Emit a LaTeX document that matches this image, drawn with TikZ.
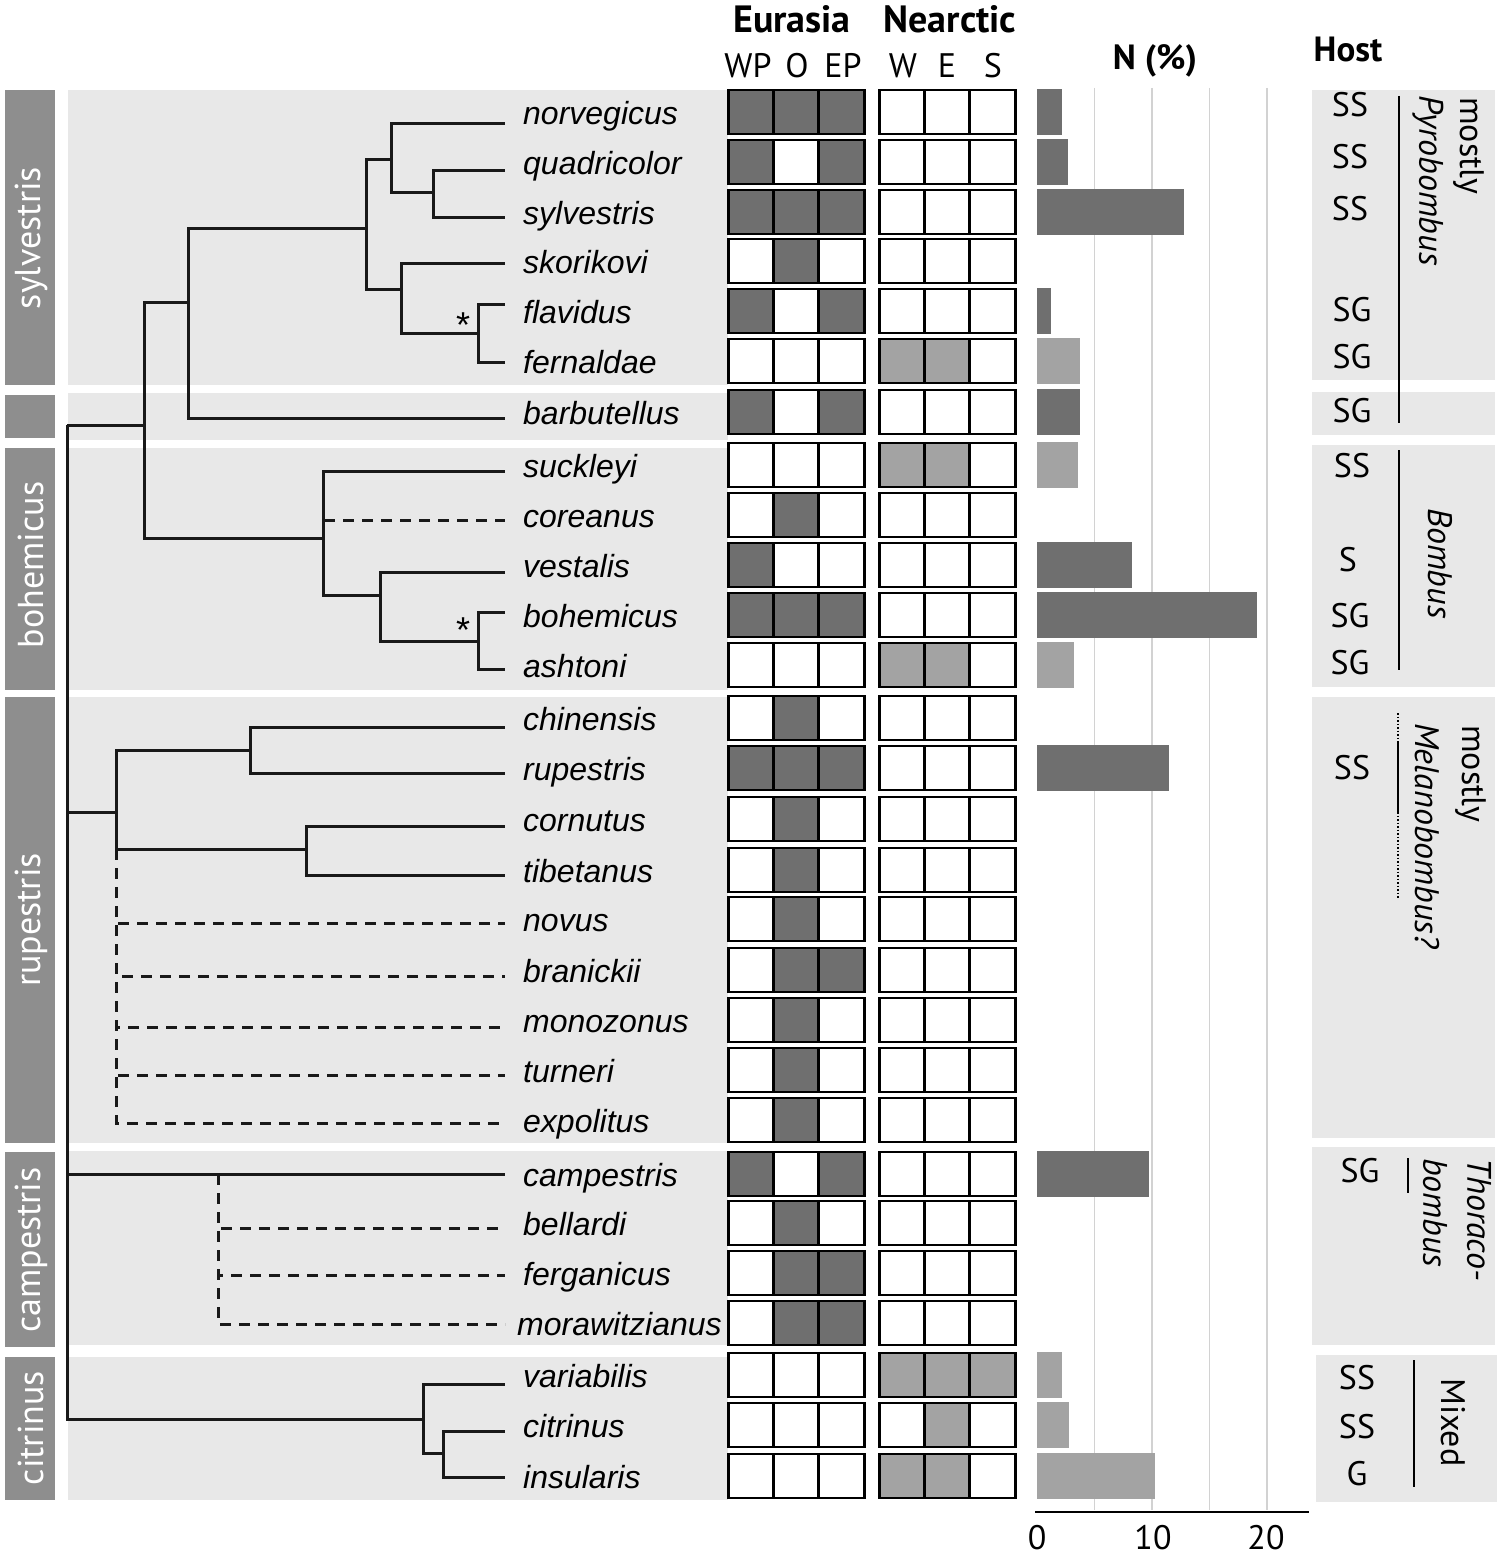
\documentclass[tikz,border=0pt]{standalone}
\usepackage{fontspec}
\setmainfont{PT Sans}
\newfontfamily\taxonfont{Liberation Sans}
\usetikzlibrary{positioning}

\begin{document}
\begin{tikzpicture}[
    x=1pt, y=-1pt,
    font=\fontsize{34}{40}\selectfont,
    % --- Style Definitions ---
    branch/.style={line width=3pt, draw=black!90},
    unsure/.style={branch, dash pattern=on 11pt off 8pt},
    taxon/.style={font=\taxonfont\itshape\fontsize{32}{38}\selectfont, anchor=mid west, inner sep=0pt},
    cell/.style={draw=black, line width=2.8pt, minimum width=45.5pt, minimum height=44pt, inner sep=0pt},
    tablabel/.style={text=white, rotate=90, font=\fontsize{36}{40}\selectfont, inner sep=0pt},
    head/.style={font=\bfseries\fontsize{38}{42}\selectfont, anchor=base, inner sep=0pt},
    colhead/.style={anchor=base, inner sep=0pt},
    hostlabel/.style={inner sep=0pt},
    sidetext/.style={rotate=-90, anchor=west, inner sep=0pt},
    hostline/.style={line width=2.4pt},
    gridline/.style={line width=1.5pt, draw=gridGray}
]

% Define custom colours
\definecolor{cD}{HTML}{6F6F6F}
\definecolor{cL}{HTML}{A3A3A3}
\definecolor{cW}{HTML}{FFFFFF}
\definecolor{panelGray}{HTML}{E8E8E8}
\definecolor{tabGray}{HTML}{8E8E8E}
\definecolor{gridGray}{HTML}{D2D2D2}

\fill[white] (0,0) rectangle (1506,1557);
\useasboundingbox (0,0) rectangle (1506,1557);

% ================= Group panels & tabs =================
\fill[panelGray] (68,90) rectangle (728,385);
\fill[panelGray] (68,393) rectangle (728,440);
\fill[panelGray] (68,448) rectangle (728,690);
\fill[panelGray] (68,697) rectangle (728,1143);
\fill[panelGray] (68,1151) rectangle (728,1345);
\fill[panelGray] (68,1357) rectangle (728,1500);

\fill[tabGray] (5,90) rectangle (55,385);
\fill[tabGray] (5,395) rectangle (55,438);
\fill[tabGray] (5,448) rectangle (55,690);
\fill[tabGray] (5,697) rectangle (55,1143);
\fill[tabGray] (5,1152) rectangle (55,1347);
\fill[tabGray] (5,1357) rectangle (55,1500);

\node[tablabel] (tab-sylvestris) at (31,238) {sylvestris};
\node[tablabel] (tab-bohemicus) at (31,565) {bohemicus};
\node[tablabel] (tab-rupestris) at (31,920) {rupestris};
\node[tablabel] (tab-campestris) at (31,1250) {campestris};
\node[tablabel] (tab-citrinus) at (31,1428) {citrinus};

% ================= Headers =================
\node[head] (eurasia) at (792,33) {Eurasia};
\node[head] (nearctic) at (950,33) {Nearctic};
\node[colhead] (hWP) at (748,78) {WP};
\node[colhead] (hO) at (797,78) {O};
\node[colhead] (hEP) at (843,78) {EP};
\node[colhead] (hW) at (903,78) {W};
\node[colhead] (hE) at (947,78) {E};
\node[colhead] (hS) at (993,78) {S};
\node[head, font=\bfseries\fontsize{35}{40}\selectfont] (nperc) at (1155,70) {N (\%)};
\node[head, font=\bfseries\fontsize{35}{40}\selectfont] (host) at (1348,62) {Host};

% ================= Species rows =================
\foreach \sp/\tx/\ry/\ty/\a/\b/\c/\d/\e/\f in {
    norvegicus/523/112/124/D/D/D/W/W/W,
    quadricolor/523/162/171/D/W/D/W/W/W,
    sylvestris/523/212/217/D/D/D/W/W/W,
    skorikovi/523/261/263/W/D/W/W/W/W,
    flavidus/523/311/304/D/W/D/W/W/W,
    fernaldae/523/361/362/W/W/W/L/L/W,
    barbutellus/523/412/418/D/W/D/W/W/W,
    suckleyi/523/465/471/W/W/W/L/L/W,
    coreanus/523/515/520/W/D/W/W/W/W,
    vestalis/523/565/572/D/W/W/W/W/W,
    bohemicus/523/615/612/D/D/D/W/W/W,
    ashtoni/523/665/669/W/W/W/L/L/W,
    chinensis/523/718/727/W/D/W/W/W/W,
    rupestris/523/768/773/D/D/D/W/W/W,
    cornutus/523/819/826/W/D/W/W/W/W,
    tibetanus/523/870/875/W/D/W/W/W/W,
    novus/523/919/923/W/D/W/W/W/W,
    branickii/523/970/976/W/D/D/W/W/W,
    monozonus/523/1020/1027/W/D/W/W/W/W,
    turneri/523/1070/1075/W/D/W/W/W/W,
    expolitus/523/1120/1123/W/D/W/W/W/W,
    campestris/523/1174/1174/D/W/D/W/W/W,
    bellardi/523/1223/1228/W/D/W/W/W/W,
    ferganicus/523/1273/1275/W/D/D/W/W/W,
    morawitzianus/517/1323/1324/W/D/D/W/W/W,
    variabilis/523/1375/1384/W/W/W/L/L/L,
    citrinus/523/1425/1431/W/W/W/W/L/W,
    insularis/523/1476/1477/W/W/W/L/L/W} {
    \coordinate (t-\sp) at (505,\ty);
    \node[taxon] (\sp) at (\tx,{\ry+10}) {\sp};
    \node[cell, fill=c\a] (\sp-wp) at (751,\ry) {};
    \node[cell, fill=c\b] (\sp-o) at (796.5,\ry) {};
    \node[cell, fill=c\c] (\sp-ep) at (841.5,\ry) {};
    \node[cell, fill=c\d] (\sp-w) at (902,\ry) {};
    \node[cell, fill=c\e] (\sp-e) at (947.5,\ry) {};
    \node[cell, fill=c\f] (\sp-s) at (992.5,\ry) {};
}

% ================= Bar chart =================
\foreach \g in {5,10,15,20}
    \draw[gridline] ({1037+11.5*\g},88) -- ({1037+11.5*\g},1510);
\foreach \ry/\v/\col in {112/2.2/D, 162/2.7/D, 212/12.8/D, 311/1.2/D, 361/3.7/L,
    412/3.7/D, 465/3.6/L, 565/8.3/D, 615/19.1/D, 665/3.2/L, 768/11.5/D,
    1174/9.7/D, 1375/2.2/L, 1425/2.8/L, 1476/10.3/L}
    \fill[c\col] (1037,{\ry-23}) rectangle ({1037+11.5*\v},{\ry+23});
\coordinate (ax0) at (1035,1512);
\coordinate (ax1) at (1309,1512);
\draw[line width=2.6pt] (ax0) -- (ax1);
\node[colhead] (tick0) at (1037,1549) {0};
\node[colhead] (tick10) at (1153,1549) {10};
\node[colhead] (tick20) at (1266,1549) {20};

% ================= Tree =================
\coordinate (root) at (67,425);
\coordinate (nA) at (144,425);
\coordinate (nB) at (188,302);
\coordinate (nC) at (366,228);
\coordinate (nD) at (391,160);
\coordinate (nF) at (433,193);
\coordinate (nE) at (401,289);
\coordinate (nG) at (478,333);
\coordinate (nBo) at (323,538);
\coordinate (nH) at (380,595);
\coordinate (nI) at (478,641);
\coordinate (nRu) at (116,812);
\coordinate (nJ) at (250,750);
\coordinate (nK) at (306,849);
\coordinate (nRd) at (116,849);
\coordinate (nCd) at (218,1174);
\coordinate (nCi) at (423,1419);
\coordinate (nL) at (443,1453);

\draw[branch] (root) |- (nA) (root) |- (nRu) (root) |- (t-campestris) (root) |- (nCi);
\draw[branch] (nA) |- (nB) (nA) |- (nBo);
\draw[branch] (nB) |- (nC) (nB) |- (t-barbutellus);
\draw[branch] (nC) |- (nD) (nC) |- (nE);
\draw[branch] (nD) |- (t-norvegicus) (nD) |- (nF);
\draw[branch] (nF) |- (t-quadricolor) (nF) |- (t-sylvestris);
\draw[branch] (nE) |- (t-skorikovi) (nE) |- (nG);
\draw[branch] (nG) |- (t-flavidus) (nG) |- (t-fernaldae);
\draw[branch] (nBo) |- (t-suckleyi) (nBo) |- (nH);
\draw[unsure] (nBo) |- (t-coreanus);
\draw[branch] (nH) |- (t-vestalis) (nH) |- (nI);
\draw[branch] (nI) |- (t-bohemicus) (nI) |- (t-ashtoni);
\draw[branch] (nRu) |- (nJ) (nRu) |- (nK);
\draw[branch] (nJ) |- (t-chinensis) (nJ) |- (t-rupestris);
\draw[branch] (nK) |- (t-cornutus) (nK) |- (t-tibetanus);
\foreach \sp in {novus, branickii, monozonus, turneri, expolitus}
    \draw[unsure] (nRd) |- (t-\sp);
\foreach \sp in {bellardi, ferganicus, morawitzianus}
    \draw[unsure] (nCd) |- (t-\sp);
\draw[branch] (nCi) |- (t-variabilis) (nCi) |- (nL);
\draw[branch] (nL) |- (t-citrinus) (nL) |- (t-insularis);

\node[taxon, anchor=center, font=\taxonfont\fontsize{36}{40}\selectfont] (ast1) at (463,325) {*};
\node[taxon, anchor=center, font=\taxonfont\fontsize{36}{40}\selectfont] (ast2) at (463,630) {*};

% ================= Host column =================
\fill[panelGray] (1312,90) rectangle (1495,380);
\fill[panelGray] (1312,392) rectangle (1495,435);
\fill[panelGray] (1312,445) rectangle (1495,687);
\fill[panelGray] (1312,697) rectangle (1495,1138);
\fill[panelGray] (1312,1147) rectangle (1495,1345);
\fill[panelGray] (1316,1355) rectangle (1497,1502);

\foreach \hx/\hy/\txt in {1350/105/SS, 1350/157/SS, 1350/209/SS, 1352/310/SG,
    1352/357/SG, 1352/411/SG, 1352/466/SS, 1348/560/S, 1350/616/SG,
    1350/663/SG, 1352/768/SS, 1360/1171/SG, 1357/1378/SS, 1357/1427/SS,
    1357/1474/G}
    \node[hostlabel] at (\hx,\hy) {\txt};

\draw[hostline] (1399,96) -- (1399,423);
\node[sidetext] (pyro1) at (1469,97) {mostly};
\node[sidetext] (pyro2) at (1428,95) {\itshape Pyrobombus};

\draw[hostline] (1399,450) -- (1399,670);
\node[sidetext] (bomb) at (1440,508) {\itshape Bombus};

\draw[line width=1.5pt, dash pattern=on 1.5pt off 2pt] (1398,713) -- (1398,743);
\draw[hostline] (1398,743) -- (1398,812);
\draw[line width=1.5pt, dash pattern=on 1.5pt off 2pt] (1398,812) -- (1398,898);
\node[sidetext] (mela1) at (1471,725) {mostly};
\node[sidetext] (mela2) at (1427,723) {\itshape Melanobombus?};

\draw[hostline] (1408,1158) -- (1408,1193);
\node[sidetext] (thor1) at (1479,1158) {\itshape Thoraco-};
\node[sidetext] (thor2) at (1435,1158) {\itshape bombus};

\draw[hostline] (1414,1360) -- (1414,1487);
\node[sidetext] (mixed) at (1453,1378) {Mixed};

\end{tikzpicture}
\end{document}
